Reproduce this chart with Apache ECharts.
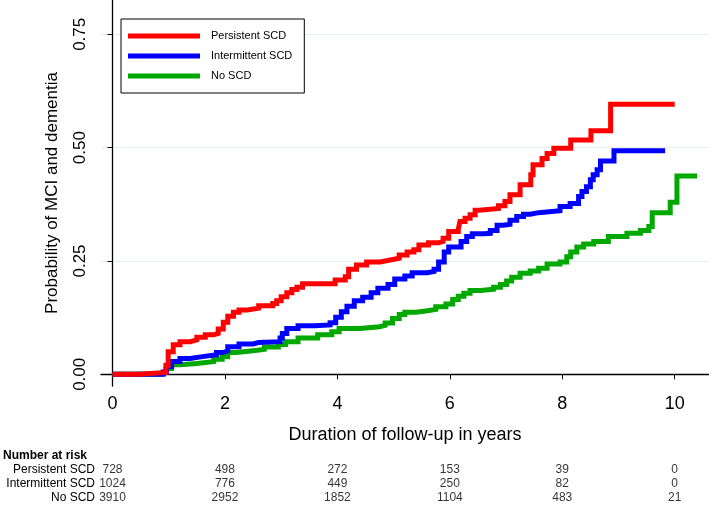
<!DOCTYPE html>
<html><head><meta charset="utf-8">
<script src="https://cdn.jsdelivr.net/npm/echarts@6/dist/echarts.min.js"></script>
<style>html,body{margin:0;padding:0;background:#fff}#c{width:709px;height:505px}</style>
</head><body><div id="c"></div>
<script>
const seriesNames = ['Persistent SCD', 'Intermittent SCD', 'No SCD'];
const persistent = [[0,0],[0.46,0.004],[0.95,0.02],[0.99,0.05],[1.08,0.065],[1.2,0.072],[1.38,0.076],[1.5,0.082],[1.65,0.087],[1.8,0.09],[1.88,0.10],[1.97,0.115],[2.05,0.128],[2.15,0.137],[2.25,0.142],[2.4,0.146],[2.6,0.151],[2.85,0.156],[2.92,0.162],[3.0,0.171],[3.1,0.18],[3.19,0.187],[3.28,0.192],[3.38,0.2],[3.96,0.208],[4.14,0.215],[4.2,0.232],[4.34,0.241],[4.52,0.248],[4.76,0.252],[4.94,0.256],[5.1,0.263],[5.24,0.27],[5.36,0.275],[5.45,0.285],[5.62,0.29],[5.8,0.293],[5.88,0.3],[5.98,0.315],[6.15,0.32],[6.18,0.337],[6.27,0.344],[6.36,0.352],[6.45,0.362],[6.52,0.366],[6.865,0.372],[6.98,0.381],[7.07,0.396],[7.25,0.418],[7.44,0.44],[7.48,0.462],[7.64,0.476],[7.73,0.487],[7.85,0.4985],[8.15,0.517],[8.51,0.537],[8.86,0.5956],[10.0,0.5956]];
const intermittent = [[0,0],[0.9,0.005],[0.96,0.017],[1.05,0.028],[1.2,0.035],[1.38,0.039],[1.6,0.043],[1.85,0.048],[1.97,0.052],[2.05,0.061],[2.25,0.067],[2.5,0.07],[2.6,0.072],[2.98,0.08],[3.02,0.09],[3.1,0.101],[3.3,0.107],[3.6,0.109],[3.87,0.114],[3.97,0.126],[4.07,0.138],[4.17,0.15],[4.3,0.162],[4.45,0.17],[4.6,0.18],[4.72,0.19],[4.9,0.198],[5.02,0.21],[5.2,0.217],[5.33,0.224],[5.6,0.227],[5.72,0.232],[5.8,0.248],[5.9,0.27],[5.98,0.281],[6.2,0.293],[6.3,0.304],[6.4,0.31],[6.6,0.311],[6.72,0.317],[6.84,0.329],[6.95,0.331],[7.07,0.34],[7.19,0.348],[7.31,0.353],[7.43,0.3566],[7.58,0.361],[7.96,0.37],[8.14,0.377],[8.29,0.392],[8.35,0.403],[8.43,0.414],[8.5,0.429],[8.55,0.44],[8.62,0.451],[8.68,0.4705],[8.92,0.4934],[9.83,0.4934]];
const noScd = [[0,0],[0.88,0.004],[0.95,0.013],[1.05,0.021],[1.2,0.024],[1.5,0.028],[1.8,0.033],[1.95,0.039],[2.05,0.048],[2.2,0.052],[2.5,0.055],[2.7,0.06],[2.95,0.066],[3.08,0.072],[3.3,0.08],[3.65,0.087],[3.9,0.094],[4.03,0.101],[4.4,0.105],[4.75,0.108],[4.85,0.113],[4.98,0.123],[5.1,0.132],[5.2,0.137],[5.4,0.14],[5.6,0.143],[5.75,0.149],[5.93,0.155],[6.05,0.165],[6.15,0.172],[6.25,0.179],[6.36,0.185],[6.55,0.1875],[6.78,0.192],[6.9,0.198],[7.01,0.206],[7.1,0.214],[7.25,0.223],[7.43,0.228],[7.58,0.234],[7.73,0.2433],[7.96,0.248],[8.08,0.2595],[8.15,0.27],[8.26,0.281],[8.38,0.2875],[8.56,0.293],[8.82,0.304],[9.15,0.311],[9.39,0.317],[9.54,0.326],[9.6,0.3566],[9.92,0.3794],[10.04,0.4375],[10.4,0.4375]];
const xTicks = [0, 2, 4, 6, 8, 10];
const yTicks = [0, 0.25, 0.5, 0.75];
const riskRows = ['No SCD', 'Intermittent SCD', 'Persistent SCD'];
const riskPersistent = [728, 498, 272, 153, 39, 0];
const riskIntermittent = [1024, 776, 449, 250, 82, 0];
const riskNoScd = [3910, 2952, 1852, 1104, 483, 21];
const xTitle = 'Duration of follow-up in years';
const yTitle = 'Probability of MCI and dementia';
const riskTitle = 'Number at risk';

const colors = ['#ff0000', '#0000ff', '#00a800'];
const XMIN = -0.205, XMAX = 10.61, YMIN = -0.0258, YMAX = 0.8257;
const FONT = '"Liberation Sans", Arial, sans-serif';
const NARROW = '"Liberation Sans Narrow", "Arial Narrow", "Liberation Sans", sans-serif';

const chart = echarts.init(document.getElementById('c'));
const lines = [persistent, intermittent, noScd];
const riskData = [];
[[riskPersistent, 'Persistent SCD'], [riskIntermittent, 'Intermittent SCD'], [riskNoScd, 'No SCD']].forEach(([arr, row]) => {
  arr.forEach((v, i) => riskData.push([xTicks[i], row, v]));
});

chart.setOption({
  animation: false,
  backgroundColor: '#fff',
  textStyle: { fontFamily: FONT },
  grid: [
    { left: 101, right: 0, top: 0, bottom: 119, containLabel: false },
    { left: 101, right: 0, top: 463, height: 42, containLabel: false }
  ],
  legend: {
    orient: 'vertical', left: 121, top: 19,
    data: seriesNames,
    icon: 'rect', itemWidth: 72, itemHeight: 5, itemGap: 6,
    padding: [10, 12, 10, 7],
    borderColor: '#000', borderWidth: 1, backgroundColor: '#fff',
    textStyle: { fontSize: 11, color: '#000', lineHeight: 14, padding: [0, 0, 0, 6], fontFamily: FONT }
  },
  graphic: [{
    type: 'text', left: 3, top: 450,
    style: { text: riskTitle, font: 'bold 12px ' + NARROW, fill: '#000' }
  }],
  xAxis: [{
    gridIndex: 0, type: 'value', min: XMIN, max: XMAX,
    name: xTitle, nameLocation: 'middle', nameGap: 40,
    nameTextStyle: { fontSize: 18, color: '#000' },
    axisLine: { lineStyle: { color: '#000', width: 1.3 } },
    axisTick: { show: true, length: 5, customValues: xTicks, lineStyle: { color: '#000' } },
    axisLabel: { customValues: xTicks, fontSize: 18, color: '#000', margin: 9 },
    splitLine: { show: false }
  }, {
    gridIndex: 1, type: 'value', min: XMIN, max: XMAX, show: false
  }],
  yAxis: [{
    gridIndex: 0, type: 'value', min: YMIN, max: YMAX,
    name: yTitle, nameLocation: 'middle', nameGap: 40, nameRotate: 90,
    nameTextStyle: { fontSize: 17, color: '#000' },
    axisLine: { lineStyle: { color: '#000', width: 1.3 } },
    axisTick: { show: true, length: 5, customValues: yTicks, lineStyle: { color: '#000' } },
    axisLabel: { customValues: yTicks, fontSize: 17, color: '#000', rotate: 90, margin: 12,
      formatter: v => v.toFixed(2) },
    splitLine: { show: true, lineStyle: { color: '#e8eff1', width: 1.2 } }
  }, {
    gridIndex: 1, type: 'category', data: riskRows,
    axisLine: { show: false }, axisTick: { show: false },
    axisLabel: { interval: 0, fontSize: 12, color: '#000', margin: 6, fontFamily: NARROW }
  }],
  series: [
    ...lines.map((d, i) => ({
      name: seriesNames[i], type: 'line', step: 'end', data: d,
      xAxisIndex: 0, yAxisIndex: 0,
      showSymbol: false, symbol: 'none',
      color: colors[i],
      lineStyle: { color: colors[i], width: 5, join: 'miter' },
      z: 10 - i
    })),
    {
      type: 'scatter', xAxisIndex: 1, yAxisIndex: 1, data: riskData,
      symbolSize: 1, itemStyle: { color: 'rgba(0,0,0,0)' },
      label: { show: true, position: 'inside', fontSize: 12, color: '#000', fontFamily: NARROW,
        formatter: p => String(p.value[2]) },
      silent: true
    }
  ]
});
</script></body></html>
